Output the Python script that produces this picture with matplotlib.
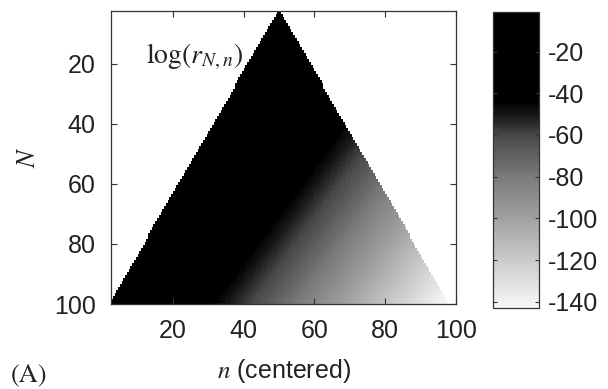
import numpy as np
import matplotlib
matplotlib.use("Agg")
import matplotlib.pyplot as plt
from matplotlib.colors import LinearSegmentedColormap, Normalize

# --- Data ---
# log(r_{N,n}) along the bottom row (N = 100) against distance k (in n units)
# from the left edge of the triangle
profile_k = [0, 10, 20, 30, 40, 50, 60, 70, 80, 90, 100]
profile_logr = [-1, -15, -30, -45, -60, -75, -90, -105, -120, -135, -150]
# rows higher up sit a little darker for the same k
shift_N = [2, 45, 100]
shift_logr = [20, 11.5, 0]

N_rows = np.arange(1, 101)
n_cols = np.arange(0.25, 100.5, 0.5)
apex_n, apex_N, half_slope = 50.0, 2.0, 0.49

# colour scale (grey level against value)
cbar_values = [-143, -120, -100, -80, -60, -52, -44, -1]
cbar_grays = [0.97, 0.79, 0.63, 0.48, 0.28, 0.12, 0.0, 0.0]
vmin, vmax = -143, -1

x_ticks = [20, 40, 60, 80, 100]
y_ticks = [20, 40, 60, 80, 100]
cbar_ticks = [-140, -120, -100, -80, -60, -40, -20]

# --- Build the triangular field ---
nn, NN = np.meshgrid(n_cols, N_rows)
half = half_slope * (NN - apex_N)
k = nn - (apex_n - half)
logr = np.interp(k, profile_k, profile_logr) + np.interp(NN, shift_N, shift_logr)
logr = np.ma.masked_where((k < 0) | (k > 2 * half), logr)

# --- Colormap ---
pos = [(v - vmin) / (vmax - vmin) for v in cbar_values]
cols = [(g, g, g) for g in cbar_grays]
cmap = LinearSegmentedColormap.from_list("grey_log", list(zip(pos, cols)), N=128)
cmap.set_bad("white")

plt.rcParams["font.family"] = ["Liberation Sans", "DejaVu Sans"]
plt.rcParams["mathtext.fontset"] = "stix"
plt.rcParams["axes.unicode_minus"] = False
FS = 18
TXT = "#222222"

fig = plt.figure(figsize=(6.08, 3.89), dpi=100)
ax = fig.add_axes([0.1826, 0.2185, 0.5674, 0.7532])
cax = fig.add_axes([0.8109, 0.2082, 0.0757, 0.7610])

im = ax.pcolormesh(n_cols, N_rows, logr, cmap=cmap,
                   norm=Normalize(vmin=vmin, vmax=vmax), shading="nearest")
ax.set_xlim(2.5, 100)
ax.set_ylim(100, 2.5)
ax.set_xticks(x_ticks)
ax.set_yticks(y_ticks)
ax.tick_params(direction="in", length=4, width=0.8, top=True, right=True,
               labelsize=FS, labelcolor=TXT, color="#333333", pad=11)
for s in ax.spines.values():
    s.set_linewidth(0.9)
    s.set_color("#333333")

ax.set_xlabel(r"$n$ (centered)", fontsize=FS, color=TXT, labelpad=10)
ax.set_ylabel(r"$N$", fontsize=19, color=TXT, labelpad=10)
ax.text(0.1, 0.843, r"$\log(r_{N,n})$", transform=ax.transAxes,
        fontsize=20, color=TXT, va="center")
fig.text(0.048, 0.036, "(A)", fontsize=19, color=TXT, family="STIXGeneral",
         ha="center", va="center")

cb = fig.colorbar(im, cax=cax, ticks=cbar_ticks)
cb.ax.tick_params(direction="in", length=3, width=0.8, left=True, right=True,
                  labelsize=FS, labelcolor=TXT, color="#333333", pad=6)
cb.outline.set_linewidth(0.9)
cb.outline.set_edgecolor("#333333")

fig.savefig("out.png", dpi=100)
